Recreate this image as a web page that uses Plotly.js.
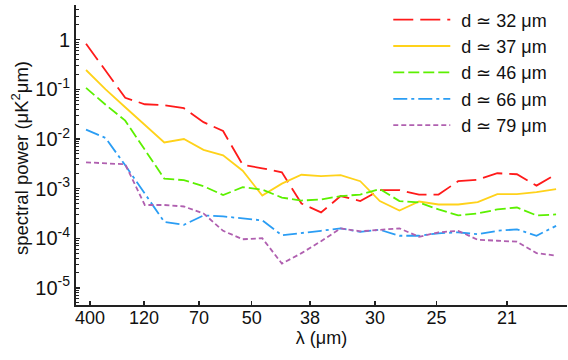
<!DOCTYPE html>
<html>
<head>
<meta charset="utf-8">
<script src="https://cdn.plot.ly/plotly-3.0.1.min.js"></script>
<style>
  html, body { margin: 0; padding: 0; background: #fff; }
  #plotArea { width: 568px; height: 360px; }
</style>
</head>
<body>
<div id="plotArea"></div>
<script>
// 横轴: 波数 1/λ (μm^-1)，刻度标签写成 λ
const waveNum = [0.00207, 0.00419, 0.00631, 0.00843, 0.01054, 0.01266, 0.01478, 0.0169,
  0.01902, 0.02114, 0.02326, 0.02538, 0.0275, 0.02962, 0.03174, 0.03386, 0.03598,
  0.0381, 0.04021, 0.04233, 0.04445, 0.04657, 0.04869, 0.05081, 0.05293];

// 各曲线的 log10(功率)
const logP32 = [-0.08, -0.62, -1.17, -1.30, -1.32, -1.38, -1.66, -1.84, -2.52, -2.59,
  -2.67, -3.30, -3.48, -3.15, -3.25, -3.03, -3.03, -3.12, -3.12, -2.85, -2.82, -2.69,
  -2.71, -2.94, -2.71];
const logP37 = [-0.61, -1.00, -1.36, -1.72, -2.07, -2.00, -2.22, -2.33, -2.64, -3.14,
  -2.90, -2.72, -2.75, -2.73, -2.85, -3.25, -3.44, -3.26, -3.32, -3.32, -3.27, -3.11,
  -3.11, -3.07, -3.01];
const logP46 = [-0.97, -1.31, -1.63, -2.21, -2.80, -2.83, -2.95, -3.13, -2.97, -3.02,
  -3.18, -3.24, -3.22, -3.15, -3.12, -3.01, -3.25, -3.28, -3.42, -3.54, -3.50, -3.42,
  -3.38, -3.54, -3.52];
const logP66 = [-1.81, -1.98, -2.53, -3.10, -3.67, -3.73, -3.54, -3.56, -3.60, -3.64,
  -3.94, -3.90, -3.85, -3.80, -3.87, -3.83, -3.95, -3.95, -3.90, -3.88, -3.92, -3.85,
  -3.82, -3.95, -3.75];
const logP79 = [-2.47, -2.49, -2.51, -3.33, -3.33, -3.36, -3.50, -3.85, -4.02, -4.00,
  -4.51, -4.30, -4.06, -3.80, -3.86, -3.83, -3.80, -3.97, -3.88, -3.85, -4.03, -4.05,
  -4.07, -4.30, -4.35];

const seriesNames = ['d ≃ 32 μm', 'd ≃ 37 μm', 'd ≃ 46 μm', 'd ≃ 66 μm', 'd ≃ 79 μm'];
const lambdaTicks = [400, 120, 70, 50, 38, 30, 25, 21];
const powerTicks = [1, 1e-1, 1e-2, 1e-3, 1e-4, 1e-5];
const powerTickText = ['1', '10<sup>-1</sup>', '10<sup>-2</sup>', '10<sup>-3</sup>',
  '10<sup>-4</sup>', '10<sup>-5</sup>'];

// 线型
const styles = [
  { color: '#ff1a1a', dash: '20px,7px' },
  { color: '#ffd21a', dash: 'solid' },
  { color: '#5cf000', dash: '11px,4px' },
  { color: '#2a9df4', dash: '14px,4px,3px,4px' },
  { color: '#b060b0', dash: '5px,3px' }
];

const allLogs = [logP32, logP37, logP46, logP66, logP79];
const dataSet = allLogs.map((lp, i) => ({
  x: waveNum,
  y: lp.map(v => Math.pow(10, v)),
  name: seriesNames[i],
  mode: 'lines',
  type: 'scatter',
  line: { color: styles[i].color, width: 1.8, dash: styles[i].dash }
}));

// 对数轴的次刻度
const minorVals = [];
for (let e = -6; e <= 0; e++) {
  for (let m = 2; m <= 9; m++) minorVals.push(m * Math.pow(10, e));
}

const axisFont = { family: 'Liberation Sans, Arial, sans-serif', size: 18, color: '#111' };

const layout = {
  width: 568,
  height: 360,
  margin: { l: 76, r: 1, t: 3, b: 55 },
  paper_bgcolor: '#fff',
  plot_bgcolor: '#fff',
  font: axisFont,
  showlegend: true,
  legend: {
    x: 0.636, xanchor: 'left',
    y: 1.012, yanchor: 'top',
    font: axisFont,
    bgcolor: 'rgba(0,0,0,0)',
    itemwidth: 63
  },
  // y 轴标题用注释放，位置好控制
  annotations: [{
    text: 'spectral power (μK<sup>2</sup>μm)',
    xref: 'paper', yref: 'paper',
    x: -0.114, y: 0.49,
    xanchor: 'center', yanchor: 'middle',
    textangle: -90,
    showarrow: false,
    font: { family: axisFont.family, size: 18.5, color: '#111' }
  }],
  xaxis: {
    title: { text: 'λ (μm)', font: axisFont, standoff: 2 },
    range: [0.000985, 0.05411],
    tickvals: lambdaTicks.map(l => 1 / l),
    ticktext: lambdaTicks.map(String),
    ticks: 'inside',
    ticklen: 4,
    tickwidth: 1.5,
    tickcolor: '#222',
    ticklabelstandoff: -5,
    showline: true,
    linecolor: '#222',
    linewidth: 2,
    showgrid: false,
    zeroline: false,
    tickfont: axisFont
  },
  yaxis: {
    type: 'log',
    range: [-5.345, 0.70],
    tickvals: powerTicks,
    ticktext: powerTickText,
    ticks: 'inside',
    ticklen: 4,
    tickwidth: 1.5,
    tickcolor: '#222',
    minor: { tickvals: minorVals, ticks: 'inside', ticklen: 2.5, tickwidth: 1, tickcolor: '#222' },
    showline: true,
    linecolor: '#222',
    linewidth: 2,
    showgrid: false,
    zeroline: false,
    tickfont: { family: axisFont.family, size: 20, color: '#111' }
  }
};

Plotly.newPlot('plotArea', dataSet, layout, { staticPlot: true }).then(() => {
  // 图例里的线段拉长一些，和原图一致
  document.querySelectorAll('#plotArea .legendlines path').forEach(p => p.setAttribute('d', 'M5,0h57'));
});
</script>
</body>
</html>
